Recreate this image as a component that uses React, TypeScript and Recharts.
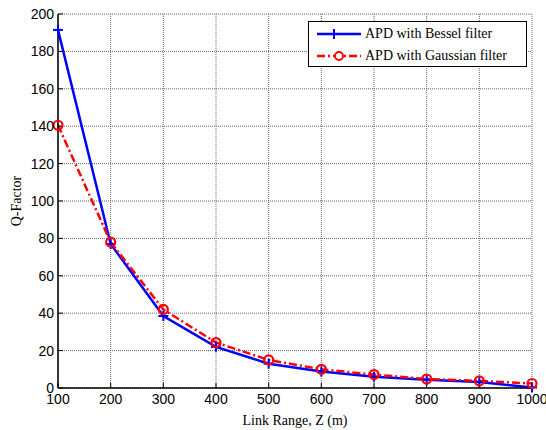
import React from 'react';
import { LineChart, Line, XAxis, YAxis, CartesianGrid, Legend } from 'recharts';

const linkRange = [100, 200, 300, 400, 500, 600, 700, 800, 900, 1000];
const besselQ = [191.5, 77, 38.5, 22, 13, 8.8, 6, 4.4, 3.2, 0.3];
const gaussianQ = [140.5, 78, 42, 24.3, 15, 10, 7.2, 4.8, 3.8, 2.4];
const xTicks = [100, 200, 300, 400, 500, 600, 700, 800, 900, 1000];
const yTicks = [0, 20, 40, 60, 80, 100, 120, 140, 160, 180, 200];

const data = linkRange.map((z, i) => ({ z, bessel: besselQ[i], gaussian: gaussianQ[i] }));

const sans = '"Liberation Sans", Arial, sans-serif';
const serif = '"Liberation Serif", "Times New Roman", serif';
const BLUE = '#0000ff';
const RED = '#ff0000';

const PlusDot = (props: any) => {
  const { cx, cy, index } = props;
  if (cx == null || cy == null) return <g key={index} />;
  return (
    <g key={index}>
      <line x1={cx - 5} y1={cy} x2={cx + 5} y2={cy} stroke={BLUE} strokeWidth={2} />
      <line x1={cx} y1={cy - 5} x2={cx} y2={cy + 5} stroke={BLUE} strokeWidth={2} />
    </g>
  );
};

const CircleDot = (props: any) => {
  const { cx, cy, index } = props;
  if (cx == null || cy == null) return <g key={index} />;
  return <circle key={index} cx={cx} cy={cy} r={4.5} stroke={RED} strokeWidth={2.2} fill="none" />;
};

const LegendBox = () => (
  <div
    style={{
      border: '1px solid #000',
      background: '#fff',
      width: 217,
      height: 44,
      fontFamily: serif,
      fontSize: 14,
      color: '#000',
      boxSizing: 'content-box',
    }}
  >
    <div style={{ display: 'flex', alignItems: 'center', height: 22, marginTop: 1 }}>
      <svg width={56} height={16} style={{ display: 'block' }}>
        <line x1={8} y1={8} x2={52} y2={8} stroke={BLUE} strokeWidth={2.5} />
        <line x1={25} y1={3} x2={25} y2={13} stroke={BLUE} strokeWidth={2} />
        <line x1={20} y1={8} x2={30} y2={8} stroke={BLUE} strokeWidth={2} />
      </svg>
      <span>APD with Bessel filter</span>
    </div>
    <div style={{ display: 'flex', alignItems: 'center', height: 22 }}>
      <svg width={56} height={16} style={{ display: 'block' }}>
        <line x1={8} y1={8} x2={52} y2={8} stroke={RED} strokeWidth={2.5} strokeDasharray="8 3 2 3" />
        <circle cx={30} cy={8} r={4} stroke={RED} strokeWidth={2} fill="#fff" />
      </svg>
      <span>APD with Gaussian filter</span>
    </div>
  </div>
);

export default function App() {
  return (
    <div style={{ position: 'absolute', left: 0, top: 0, background: '#fff' }}>
      <LineChart width={546} height={430} data={data} margin={{ top: 14, right: 14, left: 0, bottom: 0 }}>
        <CartesianGrid stroke="#666" strokeDasharray="1 1" />
        <XAxis
          dataKey="z"
          type="number"
          domain={[100, 1000]}
          ticks={xTicks}
          height={42}
          tickSize={-5}
          tickMargin={11}
          axisLine={{ stroke: '#000', strokeWidth: 1.5 }}
          tickLine={{ stroke: '#000' }}
          tick={{ fill: '#000', fontFamily: sans, fontSize: 14 }}
          label={{ value: 'Link Range, Z (m)', position: 'insideBottom', offset: 5, fill: '#000', fontFamily: serif, fontSize: 14 }}
        />
        <XAxis
          xAxisId="top"
          orientation="top"
          type="number"
          domain={[100, 1000]}
          ticks={xTicks}
          height={0}
          tickSize={-5}
          tick={false}
          axisLine={{ stroke: '#000', strokeWidth: 1.5 }}
          tickLine={{ stroke: '#000' }}
        />
        <YAxis
          type="number"
          domain={[0, 200]}
          ticks={yTicks}
          width={58}
          tickSize={-5}
          tickMargin={9}
          axisLine={{ stroke: '#000', strokeWidth: 1.5 }}
          tickLine={{ stroke: '#000' }}
          tick={{ fill: '#000', fontFamily: sans, fontSize: 14 }}
          label={{ value: 'Q-Factor', angle: -90, position: 'insideLeft', offset: 16, fill: '#000', fontFamily: serif, fontSize: 14, style: { textAnchor: 'middle' } }}
        />
        <YAxis
          yAxisId="right"
          orientation="right"
          type="number"
          domain={[0, 200]}
          ticks={yTicks}
          width={0}
          tickSize={-5}
          tick={false}
          axisLine={{ stroke: '#000', strokeWidth: 1.5 }}
          tickLine={{ stroke: '#000' }}
        />
        <Legend
          layout="vertical"
          align="center"
          verticalAlign="middle"
          wrapperStyle={{ left: 308, top: 21 }}
          content={<LegendBox />}
        />
        <Line
          dataKey="bessel"
          name="APD with Bessel filter"
          stroke={BLUE}
          strokeWidth={2.5}
          dot={PlusDot}
          isAnimationActive={false}
        />
        <Line
          dataKey="gaussian"
          name="APD with Gaussian filter"
          stroke={RED}
          strokeWidth={2.5}
          strokeDasharray="8 3 2 3"
          dot={CircleDot}
          isAnimationActive={false}
        />
      </LineChart>
    </div>
  );
}
